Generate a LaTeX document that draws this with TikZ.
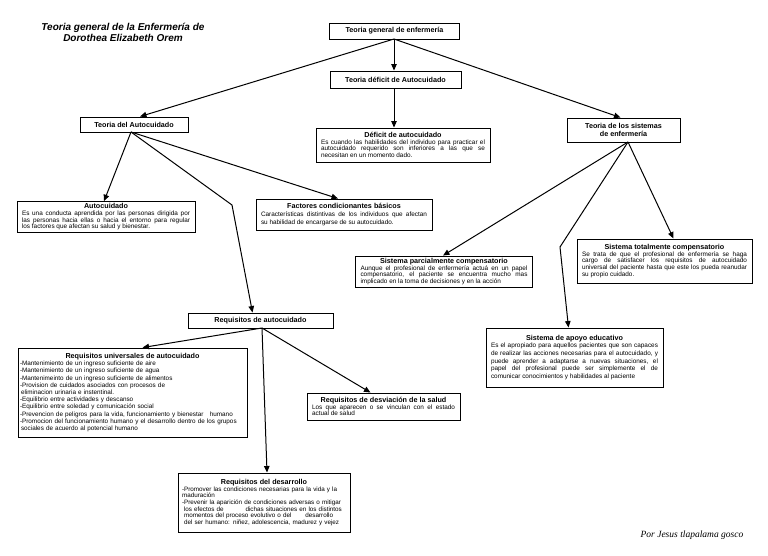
\documentclass[tikz,border=0pt]{standalone}
\usepackage{fontspec}
\setmainfont{Liberation Sans}
\newfontfamily\serifit{Liberation Serif}
\usetikzlibrary{arrows.meta}
\newcommand\bfs[1]{\fontsize{6.4}{#1}\selectfont}
\newcommand\lfs[1]{\fontsize{6.3}{#1}\selectfont}
\newcommand\ufs[1]{\fontsize{6.35}{#1}\selectfont}
\newcommand\headfs{\fontsize{7.2}{8.6}\selectfont}
\newcommand\boxtitle[1]{{\centering\headfs\bfseries #1\par}}
\begin{document}
\begin{tikzpicture}[x=1pt,y=-1pt,
  box/.style={draw,line width=0.9pt,inner xsep=4pt,inner ysep=2pt,font=\bfs{6.9}},
  hbox/.style={box,font=\headfs\bfseries,align=center},
  conn/.style={line width=1pt,-{Triangle[length=6.5pt,width=5.5pt]}}]
\useasboundingbox[fill=white] (0,0) rectangle (768,556);

% title
\node[font=\fontsize{10}{11}\selectfont\bfseries\itshape,align=center] (title) at (123,32.5)
  {Teoria general de la Enfermería de\\Dorothea Elizabeth Orem};

% header boxes
\node[hbox,minimum width=130pt,minimum height=16pt] (gen) at (394.5,31) {Teoria general de enfermería};
\node[hbox,minimum width=131pt,minimum height=17pt] (tda) at (395.5,79.5) {Teoria déficit de Autocuidado};
\node[hbox,minimum width=108pt,minimum height=15pt] (tauto) at (134,124.5) {Teoria del Autocuidado};
\node[hbox,minimum width=113pt,minimum height=24pt] (tsis) at (623.5,130) {Teoria de los sistemas\\de enfermería};
\node[hbox,minimum width=145pt,minimum height=15pt] (req) at (260.5,320.5) {Requisitos de autocuidado};

% content boxes
\node[box,font=\bfs{6.7},minimum width=174pt,minimum height=34pt,text width=164pt,align=justify] (def) at (403,145)
  {\boxtitle{Déficit de autocuidado}Es cuando las habilidades del individuo para practicar el\linebreak
  autocuidado requerido son inferiores a las que se\linebreak necesitan en un momento dado.};

\node[box,font=\bfs{6.7},minimum width=178pt,minimum height=30pt,text width=168pt,align=justify] (auto) at (106,217)
  {\boxtitle{Autocuidado}Es una conducta aprendida por las personas dirigida por\linebreak
  las personas hacia ellas o hacia el entorno para regular\linebreak los factores que afectan su salud y bienestar.};

\node[box,font=\bfs{7.6},minimum width=176pt,minimum height=31pt,text width=166pt,align=justify] (fact) at (344,214.5)
  {\boxtitle{Factores condicionantes básicos}Características distintivas de los individuos que afectan\linebreak
  su habilidad de encargarse de su autocuidado.};

\node[box,font=\bfs{6.7},minimum width=177pt,minimum height=31pt,text width=167pt,align=justify] (parc) at (444,271.5)
  {\boxtitle{Sistema parcialmente compensatorio}Aunque el profesional de enfermería actuá en un papel\linebreak
  compensatorio, el paciente se encuentra mucho mas\linebreak implicado en la toma de decisiones y en la acción};

\node[box,font=\bfs{6.9},minimum width=175pt,minimum height=44pt,text width=165pt,align=justify] (tot) at (664.5,261)
  {\boxtitle{Sistema totalmente compensatorio}Se trata de que el profesional de enfermería se haga\linebreak
  cargo de satisfacer los requisitos de autocuidado\linebreak
  universal del paciente hasta que este los pueda reanudar\linebreak su propio cuidado.};

\node[box,font=\bfs{7.7},minimum width=177pt,minimum height=59pt,text width=167pt,align=justify] (apoyo) at (574.5,357.5)
  {\boxtitle{Sistema de apoyo educativo}Es el apropiado para aquellos pacientes que son capaces\linebreak
  de realizar las acciones necesarias para el autocuidado, y\linebreak
  puede aprender a adaptarse a nuevas situaciones, el\linebreak
  papel del profesional puede ser simplemente el de\linebreak
  comunicar conocimientos y habilidades al paciente};

\node[box,font=\ufs{7.2},inner xsep=2pt,minimum width=229pt,minimum height=89pt,text width=225pt,align=left] (univ) at (132.5,392.5)
  {\boxtitle{Requisitos universales de autocuidado}%
  -Mantenimiento de un ingreso suficiente de aire\\
  -Mantenimiento de un ingreso suficiente de agua\\
  -Mantenimeinto de un ingreso suficiente de alimentos\\
  -Provision de cuidados asociados con procesos de\\
  \hspace*{1pt}eliminacion urinaria e instentinal.\\
  -Equilibrio entre actividades y descanso\\
  -Equilibrio entre soledad y comunicación social\\
  -Prevencion de peligros para la vida, funcionamiento y bienestar\ \ \ humano\\
  -Promocion del funcionamiento humano y el desarrollo dentro de los grupos\\
  \hspace*{1pt}sociales de acuerdo al potencial humano};

\node[box,font=\bfs{6.8},minimum width=153pt,minimum height=27pt,text width=143pt,align=justify] (desv) at (383.5,406.5)
  {\boxtitle{Requisitos de desviación de la salud}Los que aparecen o se vinculan con el estado\linebreak actual de salud};

\node[box,font=\lfs{6.7},minimum width=172pt,minimum height=59pt,text width=164pt,align=left] (desa) at (264,502.5)
  {\boxtitle{Requisitos del desarrollo}%
  -Promover las condiciones necesarias para la vida y la\\
  maduración\\
  -Prevenir la aparición de condiciones adversas o mitigar\\
  \hspace*{2pt}los efectos de\hspace*{22pt}dichas situaciones en los distintos\\
  \hspace*{2pt}momentos del proceso evolutivo o del\hspace*{14pt}desarrollo\\
  \hspace*{2pt}del ser humano: niñez, adolescencia, madurez y vejez\par\vspace*{5pt}};

% author
\node[font=\serifit\itshape\fontsize{9.5}{11}\selectfont] (author) at (692,535) {Por Jesus tlapalama gosco};

% connectors
\coordinate (genfan) at (394,39);
\draw[conn] (genfan) -- (tda.north -| genfan);
\draw[conn] (genfan) -- ([xshift=6pt]tauto.north);
\draw[conn] (genfan) -- ([xshift=-3pt]tsis.north);
\draw[conn] (tda.south -| genfan) -- (def.north -| genfan);

\coordinate (autofan) at (131,132);
\draw[conn] (autofan) -- ([xshift=-2pt]auto.north);
\draw[conn] (autofan) -- ([xshift=-6pt]fact.north);
\coordinate (reqbend) at (232,205);
\draw[conn] (autofan) -- (reqbend) -- ([xshift=-8pt]req.north);

\coordinate (sisfan) at (628,142);
\draw[conn] (sisfan) -- ([xshift=-1pt]parc.north);
\draw[conn] (sisfan) -- ([xshift=9pt]tot.north);
\coordinate (apbend) at (560,247);
\draw[conn] (sisfan) -- (apbend) -- ([xshift=-6pt]apoyo.north);

\coordinate (reqfan) at (262,328);
\draw[conn] (reqfan) -- ([xshift=10pt]univ.north);
\draw[conn] (reqfan) -- ([xshift=-13pt]desv.north);
\draw[conn] (reqfan) -- ([xshift=3pt]desa.north);
\end{tikzpicture}
\end{document}
